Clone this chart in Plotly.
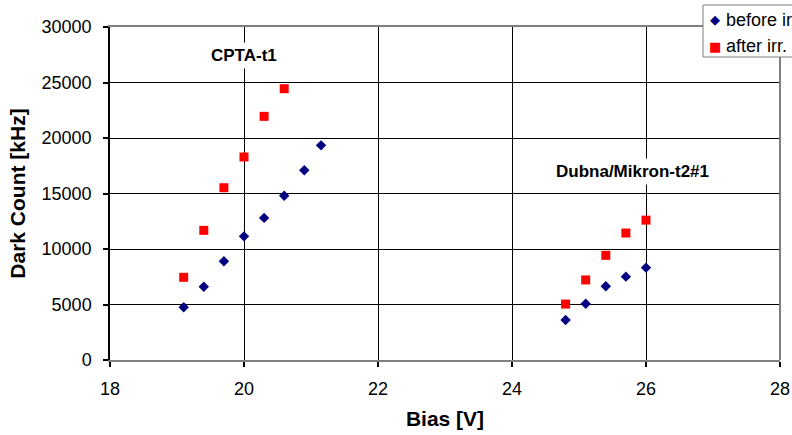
import plotly.graph_objects as go

# ---- data ----
bias_before = [19.1, 19.4, 19.7, 20.0, 20.3, 20.6, 20.9, 21.15,
               24.8, 25.1, 25.4, 25.7, 26.0]
dc_before = [4750, 6600, 8890, 11140, 12800, 14800, 17090, 19340,
             3600, 5070, 6640, 7510, 8320]
bias_after = [19.1, 19.4, 19.7, 20.0, 20.3, 20.6,
              24.8, 25.1, 25.4, 25.7, 26.0]
dc_after = [7450, 11680, 15520, 18290, 21950, 24440,
            5040, 7210, 9430, 11440, 12600]
series_names = ["before irr.", "after irr."]
labels = ["CPTA-t1", "Dubna/Mikron-t2#1"]
label_pos = [(20.0, 27400), (25.8, 17000)]

FONT = "Liberation Sans, Arial, sans-serif"
NAVY = "#000080"
RED = "#FF0000"

fig = go.Figure()
fig.add_trace(go.Scatter(x=bias_before, y=dc_before, mode="markers", name=series_names[0],
                         marker=dict(symbol="diamond", size=8, color=NAVY), showlegend=False))
fig.add_trace(go.Scatter(x=bias_after, y=dc_after, mode="markers", name=series_names[1],
                         marker=dict(symbol="square", size=9, color=RED), showlegend=False))

for t, (px, py) in zip(labels, label_pos):
    fig.add_annotation(x=px, y=py, text="<b>%s</b>" % t, showarrow=False,
                       font=dict(family=FONT, size=17, color="black"),
                       bgcolor="white", borderpad=3)

# right border (gray) over the last vertical gridline
fig.add_shape(type="line", xref="paper", yref="paper", x0=1, x1=1, y0=0, y1=1,
              line=dict(color="#808080", width=2), layer="above")

# manual legend box
lx0 = (703 - 110) / 670
ly1 = (360 - 5) / 333
ly0 = (360 - 57) / 333
fig.add_shape(type="rect", xref="paper", yref="paper", x0=lx0, x1=1.05, y0=ly0, y1=ly1,
              line=dict(color="#808080", width=1), fillcolor="white", layer="above")
sym_x = (715 - 110) / 670
txt_x = (725 - 110) / 670
rows_y = [(360 - 20) / 333, (360 - 46) / 333]
symbols = [("◆", NAVY), ("■", RED)]
for (sym, col), name, ry in zip(symbols, series_names, rows_y):
    fig.add_annotation(xref="paper", yref="paper", x=sym_x, y=ry, text=sym, showarrow=False,
                       font=dict(family="DejaVu Sans", size=13, color=col),
                       xanchor="center", yanchor="middle")
    fig.add_annotation(xref="paper", yref="paper", x=txt_x, y=ry, text=name, showarrow=False,
                       font=dict(family=FONT, size=18, color="black"),
                       xanchor="left", yanchor="middle", borderpad=0)

fig.update_layout(
    width=792, height=435,
    margin=dict(l=110, r=12, t=27, b=75, autoexpand=False),
    paper_bgcolor="white", plot_bgcolor="white",
    font=dict(family=FONT, size=18, color="black"),
    showlegend=False,
)
fig.update_xaxes(
    range=[18, 28], tick0=18, dtick=2,
    showgrid=True, gridcolor="black", gridwidth=1,
    showline=True, linecolor="#808080", linewidth=2, mirror=True,
    ticks="outside", ticklen=5, tickcolor="black", tickwidth=1.5,
    zeroline=False, ticklabelstandoff=6,
    title=dict(text="<b>Bias [V]</b>", font=dict(size=21), standoff=14),
)
fig.update_yaxes(
    range=[0, 30000], tick0=0, dtick=5000, tickformat="d",
    showgrid=True, gridcolor="black", gridwidth=1,
    showline=True, linecolor="black", linewidth=1.5,
    ticks="outside", ticklen=5, tickcolor="black", tickwidth=1.5,
    zeroline=False, ticklabelstandoff=8,
    title=dict(text="<b>Dark Count [kHz]</b>", font=dict(size=21), standoff=10),
)

fig.write_html("out.html")
